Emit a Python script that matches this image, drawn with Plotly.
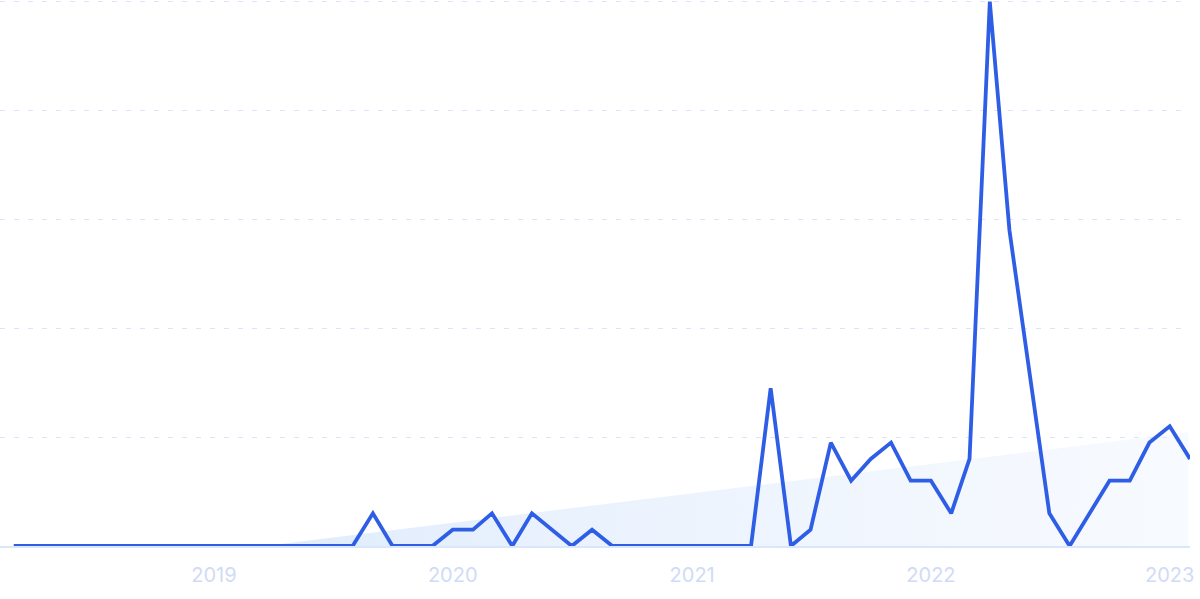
import numpy as np
import pandas as pd
import plotly.graph_objects as go

# ---- data ----
months = pd.date_range("2018-03-01", periods=60, freq="MS")
values = [
    0, 0, 0, 0, 0, 0, 0, 0, 0, 0,      # 2018-03 .. 2018-12
    0, 0, 0, 0, 0, 0, 0, 0, 6, 0,      # 2019-01 .. 2019-10
    0, 0,                              # 2019-11 .. 2019-12
    3, 3, 6, 0, 6, 3, 0, 3, 0, 0,      # 2020-01 .. 2020-10
    0, 0,                              # 2020-11 .. 2020-12
    0, 0, 0, 0, 29, 0, 3, 19, 12, 16,  # 2021-01 .. 2021-10
    19, 12,                            # 2021-11 .. 2021-12
    12, 6, 16, 100, 58, 32, 6, 0, 6, 12,  # 2022-01 .. 2022-10
    12, 19,                            # 2022-11 .. 2022-12
    22, 16,                            # 2023-01 .. 2023-02
]
tick_years = ["2019", "2020", "2021", "2022", "2023"]

# ---- linear trend (least squares), clipped at zero ----
idx = np.arange(len(values))
slope, intercept = np.polyfit(idx, np.array(values, dtype=float), 1)
x0 = -intercept / slope
trend_idx = [x0] + [i for i in idx if i > x0]
trend_vals = [max(0.0, slope * i + intercept) for i in trend_idx]
base = months[0]
trend_dates = [base + pd.Timedelta(days=float(i) * 30.4375) for i in trend_idx]

LINE = "#2f5ee6"

fig = go.Figure()
fig.add_trace(go.Scatter(
    x=trend_dates, y=trend_vals, mode="lines",
    line=dict(width=0, color="rgba(0,0,0,0)"),
    fill="tozeroy",
    fillgradient=dict(type="horizontal",
                      colorscale=[[0, "rgba(222,235,252,0.95)"],
                                  [1, "rgba(238,244,254,0.45)"]]),
    hoverinfo="skip", showlegend=False,
))
fig.add_trace(go.Scatter(
    x=months, y=values, mode="lines",
    line=dict(color=LINE, width=3.8, shape="linear"),
    showlegend=False,
))

fig.update_layout(
    width=1200, height=599,
    margin=dict(l=0, r=10, t=0, b=53),
    paper_bgcolor="white", plot_bgcolor="white",
    xaxis=dict(
        range=["2018-02-08", "2023-02-01"],
        tickvals=[f"{y}-01-01" for y in tick_years],
        ticktext=tick_years,
        tickfont=dict(family="Inter", size=20, color="#d0dbf6"),
        showgrid=False, zeroline=False,
        showline=True, linecolor="#dae6fb", linewidth=1.5,
        ticks="", ticklabelstandoff=10,
    ),
    yaxis=dict(
        range=[0, 100.3], dtick=20,
        showticklabels=False,
        showgrid=True, gridcolor="#d8e5fd", gridwidth=1.4,
        griddash="5px,9px",
        zeroline=False, ticks="",
    ),
)

fig.write_html(
    "out.html",
    config={"displayModeBar": False},
    post_script="document.body.style.margin='0';document.body.style.overflow='hidden';",
)
